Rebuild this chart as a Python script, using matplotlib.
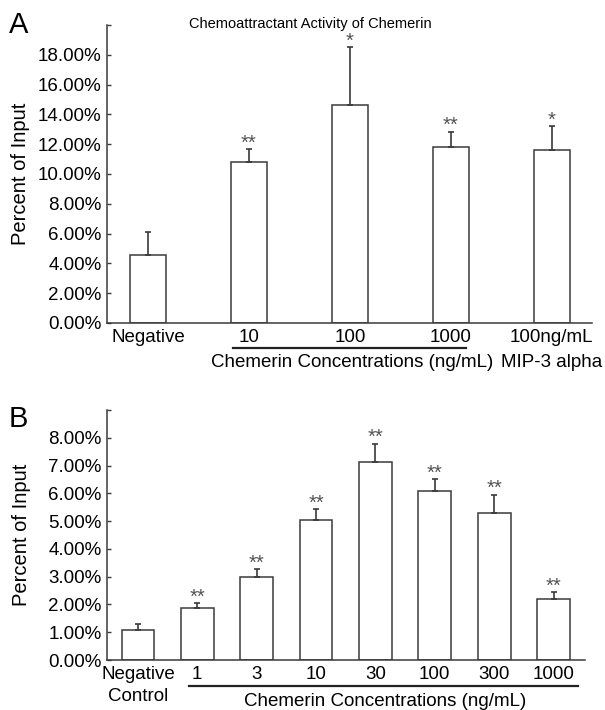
import matplotlib
matplotlib.use('Agg')
import matplotlib.pyplot as plt
from matplotlib.ticker import FuncFormatter, MultipleLocator
import matplotlib.transforms as mtrans

plt.rcParams['font.family'] = ['Liberation Sans', 'DejaVu Sans']

# panel A data (percent of input)
a_labels = ['Negative', '10', '100', '1000', '100ng/mL']
a_vals = [4.55, 10.82, 14.63, 11.78, 11.64]
a_err = [1.57, 0.85, 3.88, 1.04, 1.55]
a_stars = ['', '**', '*', '**', '*']

# panel B data
b_labels = ['Negative', '1', '3', '10', '30', '100', '300', '1000']
b_vals = [1.08, 1.86, 3.00, 5.04, 7.13, 6.07, 5.30, 2.18]
b_err = [0.20, 0.19, 0.26, 0.39, 0.66, 0.43, 0.64, 0.26]
b_stars = ['', '**', '**', '**', '**', '**', '**', '**']

EDGE = '#3a3a3a'
fig = plt.figure(figsize=(6.05, 7.10), dpi=100)
axA = fig.add_axes([0.1769, 0.5451, 0.8017, 0.4197])
axB = fig.add_axes([0.1769, 0.0704, 0.7901, 0.3521])


def style(ax, top, step, lab_x):
    for s in ['top', 'right']:
        ax.spines[s].set_visible(False)
    for s in ['left', 'bottom']:
        ax.spines[s].set_color(EDGE)
        ax.spines[s].set_linewidth(1.1)
    ax.set_ylim(0, top)
    ax.yaxis.set_major_locator(MultipleLocator(step))
    ax.yaxis.set_major_formatter(FuncFormatter(
        lambda v, p: '' if v >= top - 1e-9 else '%.2f%%' % v))
    ax.tick_params(axis='y', direction='in', length=3, width=1, color=EDGE,
                   labelsize=13.5, pad=4)
    ax.tick_params(axis='x', length=0, labelsize=13.5, pad=4)
    ax.set_ylabel('Percent of Input', fontsize=14.5)
    ax.yaxis.set_label_coords(lab_x, 0.5)


def bars(ax, vals, err, stars, width):
    x = list(range(len(vals)))
    ax.bar(x, vals, width=width, color='white', edgecolor=EDGE, linewidth=1.1,
           zorder=2)
    ax.errorbar(x, vals, yerr=[[0] * len(vals), err], fmt='none',
                ecolor=EDGE, elinewidth=1.2, capsize=2, capthick=1.2, zorder=3)
    for xi, v, e, s in zip(x, vals, err, stars):
        if s:
            ax.annotate(s, (xi, v + e), xytext=(0, 0.5), textcoords='offset points',
                        ha='center', va='baseline', fontsize=14.5, color='#555555')
    return x


# ---- panel A ----
xa = bars(axA, a_vals, a_err, a_stars, 0.356)
style(axA, 20, 2, -0.158)
axA.set_xlim(-0.406, 4.40)
axA.set_xticks(xa)
axA.set_xticklabels(a_labels)
axA.set_title('Chemoattractant Activity of Chemerin', fontsize=10.5, pad=-2,
              x=0.42, y=1.0)
trA = mtrans.blended_transform_factory(axA.transData, axA.transAxes)
axA.plot([0.84, 3.155], [-0.084, -0.084], transform=trA, color='#222222',
         lw=1.6, clip_on=False)
axA.text(2.02, -0.134, 'Chemerin Concentrations (ng/mL)', transform=trA,
         ha='center', va='center', fontsize=13.5)
axA.text(4.0, -0.134, 'MIP-3 alpha', transform=trA, ha='center',
         va='center', fontsize=13.5)
fig.text(0.015, 0.965, 'A', fontsize=21, va='center', ha='left')

# ---- panel B ----
xb = bars(axB, b_vals, b_err, b_stars, 0.55)
style(axB, 9, 1, -0.16)
axB.set_xlim(-0.52, 7.53)
axB.set_xticks(xb)
axB.set_xticklabels(b_labels)
trB = mtrans.blended_transform_factory(axB.transData, axB.transAxes)
axB.plot([0.86, 7.41], [-0.104, -0.104], transform=trB, color='#222222',
         lw=1.6, clip_on=False)
axB.text(0, -0.147, 'Control', transform=trB, ha='center', va='center',
         fontsize=13.5)
axB.text(4.16, -0.164, 'Chemerin Concentrations (ng/mL)', transform=trB,
         ha='center', va='center', fontsize=13.5)
fig.text(0.015, 0.41, 'B', fontsize=21, va='center', ha='left')

fig.savefig('out.png', dpi=100)
